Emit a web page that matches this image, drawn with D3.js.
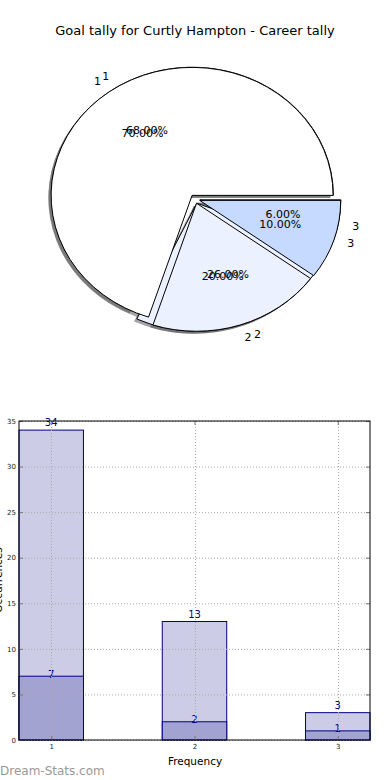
<!DOCTYPE html>
<html>
<head>
<meta charset="utf-8">
<script src="https://cdn.jsdelivr.net/npm/d3@7"></script>
<style>
body { margin: 0; background: #fff; }
text { font-family: "DejaVu Sans", sans-serif; }
</style>
</head>
<body>
<svg id="chart" width="390" height="780"></svg>
<script>
// pie data: two overlaid pies, same slices
var sliceLabels = ["1", "2", "3"];
var pctTop = [70, 20, 10];
var pctBack = [68, 26, 6];
var sliceColors = ["#ffffff", "#ebf1ff", "#c6d9ff"];

// bar data
var freqCats = [1, 2, 3];
var totalCounts = [34, 13, 3];
var subCounts = [7, 2, 1];
var yTicks = [0, 5, 10, 15, 20, 25, 30, 35];

var svg = d3.select("#chart");

svg.append("text")
	.attr("x", 195).attr("y", 35)
	.attr("text-anchor", "middle")
	.style("font-size", "13px")
	.text("Goal tally for Curtly Hampton - Career tally");

/* ---------- pie ---------- */
var cx = 195, cy = 199, rx = 141, ry = 128, expl = 0.035;
var pie = d3.pie().sort(null)
	.startAngle(Math.PI / 2)
	.endAngle(Math.PI / 2 - 2 * Math.PI); // counter clockwise from 3 o'clock
var arc = d3.arc().innerRadius(0).outerRadius(rx);

function wedges(values){
	return pie(values).map(function(d, i){
		var m = (d.startAngle + d.endAngle) / 2;
		return {arc: d, i: i, value: values[i], m: m,
			ox: expl * rx * Math.sin(m), oy: -expl * rx * Math.cos(m)};
	});
}
var pies = [wedges(pctBack), wedges(pctTop)];

var pieG = svg.append("g")
	.attr("transform", "translate(" + cx + "," + cy + ") scale(1," + (ry / rx) + ")");

// shadows sit under every wedge
pies.forEach(function(w){
	pieG.selectAll(null).data(w).enter().append("path")
		.attr("d", function(d){ return arc(d.arc); })
		.attr("transform", function(d){ return "translate(" + (d.ox - 0.02 * rx) + "," + (d.oy + 0.02 * rx) + ")"; })
		.style("fill", function(d){
			var c = d3.rgb(sliceColors[d.i]);
			return "rgba(" + Math.round(c.r * 0.3) + "," + Math.round(c.g * 0.3) + "," + Math.round(c.b * 0.3) + ",0.5)";
		});
});

pies.forEach(function(w){
	pieG.selectAll(null).data(w).enter().append("path")
		.attr("d", function(d){ return arc(d.arc); })
		.attr("transform", function(d){ return "translate(" + d.ox + "," + d.oy + ")"; })
		.attr("vector-effect", "non-scaling-stroke")
		.style("fill", function(d){ return sliceColors[d.i]; })
		.style("stroke", "black")
		.style("stroke-width", "1px")
		.style("stroke-linejoin", "miter");
});

function piePos(d, dist){
	var px = d.ox + dist * rx * Math.sin(d.m);
	var py = d.oy - dist * rx * Math.cos(d.m);
	return {x: cx + px, y: cy + py * ry / rx};
}

pies.forEach(function(w){
	w.forEach(function(d){
		var p = piePos(d, 1.1);
		svg.append("text")
			.attr("x", p.x).attr("y", p.y)
			.attr("text-anchor", Math.sin(d.m) > 0 ? "start" : "end")
			.attr("dominant-baseline", "central")
			.style("font-size", "11px")
			.text(sliceLabels[d.i]);
		var q = piePos(d, 0.6);
		svg.append("text")
			.attr("x", q.x).attr("y", q.y)
			.attr("text-anchor", "middle")
			.attr("dominant-baseline", "central")
			.style("font-size", "11px")
			.text(d3.format(".2f")(d.value) + "%");
	});
});

/* ---------- bars ---------- */
var barW = 0.45;
var x = d3.scaleLinear().domain([1 - barW / 2, 3 + barW / 2]).range([19, 370]);
var y = d3.scaleLinear().domain([0, 35]).range([740, 421]);
var bw = x(barW) - x(0);

var barG = svg.append("g");

barG.selectAll(".back").data(freqCats).enter().append("rect")
	.attr("x", function(d){ return x(d) - bw / 2; })
	.attr("y", function(d, i){ return y(totalCounts[i]); })
	.attr("width", bw)
	.attr("height", function(d, i){ return y(0) - y(totalCounts[i]); })
	.style("fill", "#ccccE6")
	.style("stroke", "#000080");

barG.selectAll(".front").data(freqCats).enter().append("rect")
	.attr("x", function(d){ return x(d) - bw / 2; })
	.attr("y", function(d, i){ return y(subCounts[i]); })
	.attr("width", bw)
	.attr("height", function(d, i){ return y(0) - y(subCounts[i]); })
	.style("fill", "#a3a3d1")
	.style("stroke", "#000080");

// grid on top of bars
var grid = svg.append("g")
	.style("stroke", "#aaa")
	.style("stroke-width", "1px")
	.style("stroke-dasharray", "1,2");
grid.selectAll(null).data(yTicks).enter().append("line")
	.attr("x1", 19).attr("x2", 370)
	.attr("y1", function(d){ return y(d) + 0.5; })
	.attr("y2", function(d){ return y(d) + 0.5; });
grid.selectAll(null).data(freqCats).enter().append("line")
	.attr("y1", 421).attr("y2", 740)
	.attr("x1", function(d){ return Math.round(x(d)) + 0.5; })
	.attr("x2", function(d){ return Math.round(x(d)) + 0.5; });

barG.selectAll(".lblTot").data(freqCats).enter().append("text")
	.attr("x", function(d){ return x(d); })
	.attr("y", function(d, i){ return y(totalCounts[i]) - 4; })
	.attr("text-anchor", "middle")
	.style("font-size", "10px")
	.style("fill", "#000080")
	.text(function(d, i){ return totalCounts[i]; });

barG.selectAll(".lblSub").data(freqCats).enter().append("text")
	.attr("x", function(d){ return x(d); })
	.attr("y", function(d, i){ return y(subCounts[i]) + 1.5; })
	.attr("text-anchor", "middle")
	.style("font-size", "10px")
	.style("fill", "#000080")
	.text(function(d, i){ return subCounts[i]; });

function styleAxis(g){
	g.select(".domain").remove();
	g.selectAll("line").style("stroke", "#777");
	g.selectAll("text").style("font-size", "7px").style("font-family", "DejaVu Sans, sans-serif").style("fill", "#222");
}

svg.append("g").attr("transform", "translate(19,0)")
	.call(d3.axisLeft(y).tickValues(yTicks).tickSize(-4).tickPadding(3))
	.call(styleAxis);
svg.append("g").attr("transform", "translate(370,0)")
	.call(d3.axisRight(y).tickValues(yTicks).tickSize(-4).tickFormat(""))
	.call(styleAxis);
svg.append("g").attr("transform", "translate(0,740)")
	.call(d3.axisBottom(x).tickValues(freqCats).tickSize(-4).tickPadding(4).tickFormat(d3.format("d")))
	.call(styleAxis);
svg.append("g").attr("transform", "translate(0,421)")
	.call(d3.axisTop(x).tickValues(freqCats).tickSize(-4).tickFormat(""))
	.call(styleAxis);

svg.append("rect")
	.attr("x", 19).attr("y", 421)
	.attr("width", 351).attr("height", 319)
	.style("fill", "none")
	.style("stroke", "black")
	.style("stroke-width", "1px");

svg.append("text")
	.attr("x", 195).attr("y", 765)
	.attr("text-anchor", "middle")
	.style("font-size", "10.5px")
	.text("Frequency");

svg.append("text")
	.attr("transform", "translate(2,580) rotate(-90)")
	.attr("text-anchor", "middle")
	.style("font-size", "10.5px")
	.text("Occurrences");

svg.append("text")
	.attr("x", 0).attr("y", 775)
	.style("font-size", "12px")
	.style("fill", "#999")
	.text("Dream-Stats.com");
</script>
</body>
</html>
